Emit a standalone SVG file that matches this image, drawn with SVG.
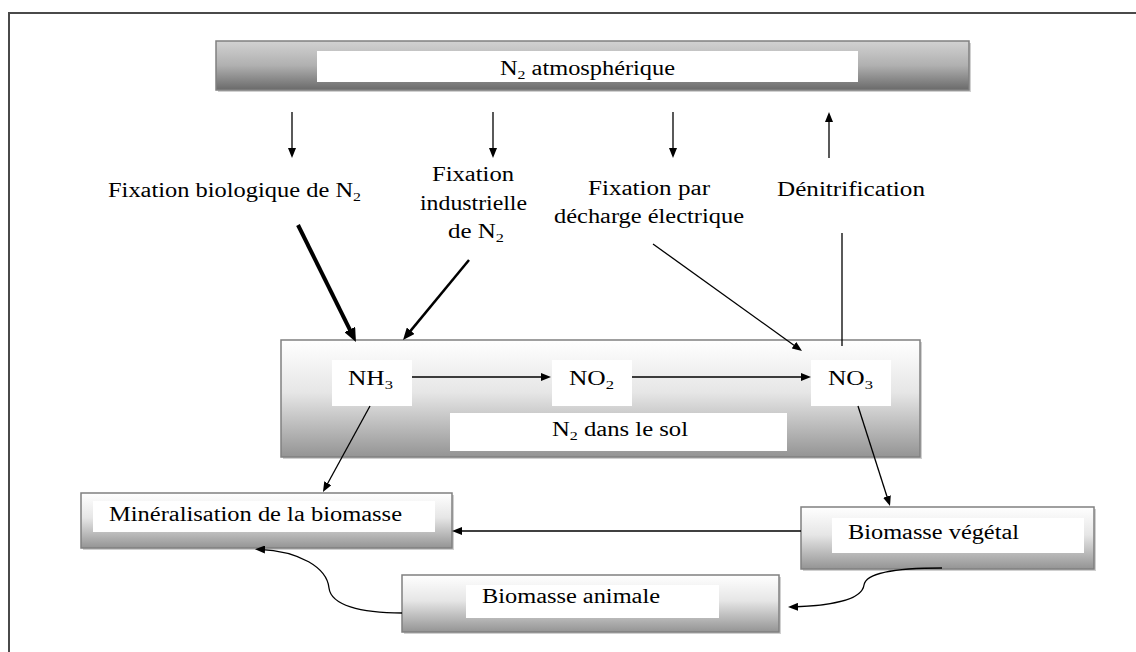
<svg xmlns="http://www.w3.org/2000/svg" width="1136" height="652" viewBox="0 0 1136 652">
<style>
  text { font-family: "Liberation Serif", "Times New Roman", serif; font-size: 20px; fill: #000; }
  .box { stroke: #808080; stroke-width: 1.5; }
  .shadow { fill: #d0d0d0; }
  .inner { fill: #fff; }
  .ln { fill: none; stroke: #000; stroke-width: 1.3; }
  .sub { font-size: 13px; }
</style>
<defs>
  <linearGradient id="gTop" x1="0" y1="0" x2="0" y2="1">
    <stop offset="0" stop-color="#d2d2d2"/>
    <stop offset="0.5" stop-color="#b0b0b0"/>
    <stop offset="1" stop-color="#6a6a6a"/>
  </linearGradient>
  <linearGradient id="gSoft" x1="0" y1="0" x2="0" y2="1">
    <stop offset="0" stop-color="#ffffff"/>
    <stop offset="0.45" stop-color="#e6e6e6"/>
    <stop offset="1" stop-color="#949494"/>
  </linearGradient>
  <marker id="a" viewBox="0 0 10 8" markerWidth="10" markerHeight="8" markerUnits="userSpaceOnUse" refX="6" refY="4" orient="auto">
    <path d="M0,0 L10,4 L0,8 z" fill="#000"/>
  </marker>
  <marker id="am" viewBox="0 0 12 10" markerWidth="12" markerHeight="10" markerUnits="userSpaceOnUse" refX="7" refY="5" orient="auto">
    <path d="M0,0 L12,5 L0,10 z" fill="#000"/>
  </marker>
  <marker id="ab" viewBox="0 0 14 12" markerWidth="14" markerHeight="12" markerUnits="userSpaceOnUse" refX="8" refY="6" orient="auto">
    <path d="M0,0 L14,6 L0,12 z" fill="#000"/>
  </marker>
</defs>

<rect width="1136" height="652" fill="#fff"/>
<path d="M9,652 L9,13 L1136,13" fill="none" stroke="#4a4a4a" stroke-width="2"/>

<g id="n2-atmospherique">
  <rect class="shadow" x="218" y="43" width="753" height="49"/>
  <rect class="box" x="216" y="41" width="753" height="49" fill="url(#gTop)"/>
  <rect class="inner" x="317" y="51" width="541" height="31"/>
  <text x="500" y="75" textLength="175" lengthAdjust="spacingAndGlyphs">N<tspan class="sub" dy="4">2</tspan><tspan dy="-4"> atmosphérique</tspan></text>
</g>

<g id="label-fixation-biologique">
  <text x="108" y="197" textLength="253" lengthAdjust="spacingAndGlyphs">Fixation biologique de N<tspan class="sub" dy="4">2</tspan></text>
</g>
<g id="label-fixation-industrielle">
  <text x="432" y="181" textLength="82" lengthAdjust="spacingAndGlyphs">Fixation</text>
  <text x="420" y="210" textLength="107" lengthAdjust="spacingAndGlyphs">industrielle</text>
  <text x="448" y="238" textLength="56" lengthAdjust="spacingAndGlyphs">de N<tspan class="sub" dy="4">2</tspan></text>
</g>
<g id="label-fixation-decharge">
  <text x="588" y="195" textLength="122" lengthAdjust="spacingAndGlyphs">Fixation par</text>
  <text x="554" y="223" textLength="190" lengthAdjust="spacingAndGlyphs">décharge électrique</text>
</g>
<g id="label-denitrification">
  <text x="777" y="196" textLength="148" lengthAdjust="spacingAndGlyphs">Dénitrification</text>
</g>

<g id="n2-sol">
  <rect class="shadow" x="283" y="342" width="639" height="117"/>
  <rect class="box" x="281" y="340" width="639" height="117" fill="url(#gSoft)"/>
  <rect class="inner" x="450" y="413" width="337" height="38"/>
  <text x="552" y="436" textLength="136" lengthAdjust="spacingAndGlyphs">N<tspan class="sub" dy="4">2</tspan><tspan dy="-4"> dans le sol</tspan></text>
</g>
<g id="nh3">
  <rect class="inner" x="332" y="360" width="80" height="46"/>
  <text x="348" y="385" textLength="45" lengthAdjust="spacingAndGlyphs">NH<tspan class="sub" dy="4">3</tspan></text>
</g>
<g id="no2">
  <rect class="inner" x="552" y="360" width="80" height="46"/>
  <text x="569" y="385" textLength="45" lengthAdjust="spacingAndGlyphs">NO<tspan class="sub" dy="4">2</tspan></text>
</g>
<g id="no3">
  <rect class="inner" x="811" y="360" width="80" height="46"/>
  <text x="828" y="385" textLength="45" lengthAdjust="spacingAndGlyphs">NO<tspan class="sub" dy="4">3</tspan></text>
</g>

<g id="mineralisation">
  <rect class="shadow" x="83" y="495" width="371" height="55"/>
  <rect class="box" x="81" y="493" width="371" height="55" fill="url(#gSoft)"/>
  <rect class="inner" x="93" y="501" width="342" height="31"/>
  <text x="109" y="521" textLength="293" lengthAdjust="spacingAndGlyphs">Minéralisation de la biomasse</text>
</g>
<g id="biomasse-vegetal">
  <rect class="shadow" x="803" y="509" width="293" height="62"/>
  <rect class="box" x="801" y="507" width="293" height="62" fill="url(#gSoft)"/>
  <rect class="inner" x="832" y="518" width="252" height="35"/>
  <text x="848" y="539" textLength="171" lengthAdjust="spacingAndGlyphs">Biomasse végétal</text>
</g>
<g id="biomasse-animale">
  <rect class="shadow" x="404" y="577" width="377" height="57"/>
  <rect class="box" x="402" y="575" width="377" height="57" fill="url(#gSoft)"/>
  <rect class="inner" x="466" y="585" width="253" height="33"/>
  <text x="482" y="603" textLength="178" lengthAdjust="spacingAndGlyphs">Biomasse animale</text>
</g>

<g id="connectors">
  <line class="ln" x1="292" y1="112" x2="292" y2="154" marker-end="url(#a)"/>
  <line class="ln" x1="493" y1="112" x2="493" y2="154" marker-end="url(#a)"/>
  <line class="ln" x1="673" y1="112" x2="673" y2="154" marker-end="url(#a)"/>
  <line class="ln" x1="829" y1="158" x2="829" y2="116" marker-end="url(#a)"/>
  <line x1="298" y1="225" x2="353.3" y2="336.6" stroke="#000" stroke-width="4" marker-end="url(#ab)"/>
  <line x1="469" y1="260" x2="406.2" y2="336.1" stroke="#000" stroke-width="2.5" marker-end="url(#am)"/>
  <line class="ln" x1="653" y1="244" x2="798.8" y2="348.7" marker-end="url(#a)"/>
  <line class="ln" x1="842" y1="233" x2="842" y2="346"/>
  <line class="ln" x1="412" y1="377" x2="547" y2="377" marker-end="url(#a)"/>
  <line class="ln" x1="632" y1="377" x2="807" y2="377" marker-end="url(#a)"/>
  <line class="ln" x1="370" y1="406" x2="324.9" y2="488.5" marker-end="url(#a)"/>
  <line class="ln" x1="858" y1="406" x2="888.8" y2="502.2" marker-end="url(#a)"/>
  <line class="ln" x1="801" y1="531" x2="456" y2="531" marker-end="url(#a)"/>
  <path class="ln" d="M402,613 C360,613 331,605 329,588 C327,568 300,551 259,549.3" marker-end="url(#a)"/>
  <path class="ln" d="M942,568 C900,568 866,572 864,585 C862,600 830,606 792,607" marker-end="url(#a)"/>
</g>
</svg>
